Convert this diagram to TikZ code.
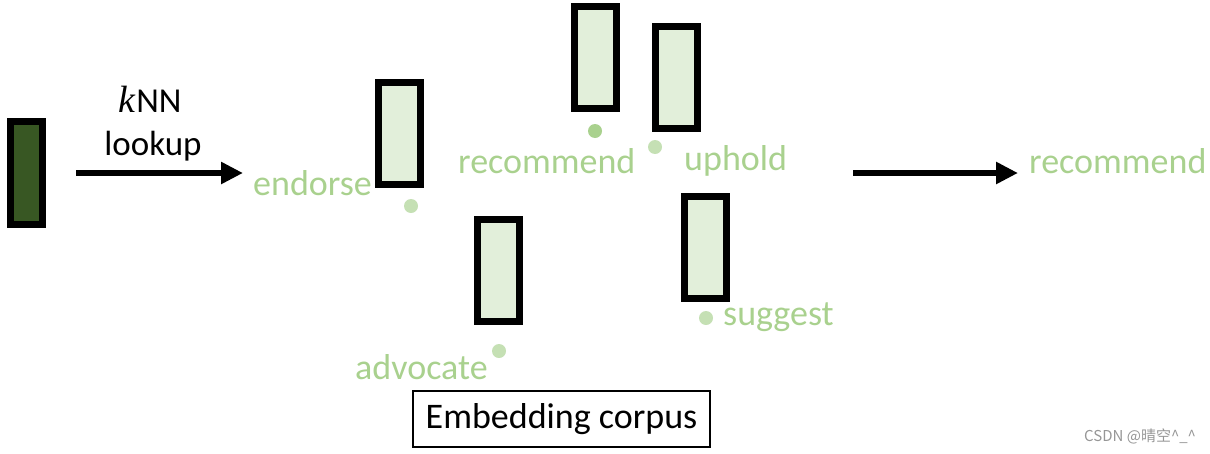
\documentclass[tikz,border=0pt]{standalone}
\usepackage{fontspec}
\setmainfont{Carlito}
\newfontfamily\cjkfont{Noto Sans CJK SC}
\newfontfamily\kitfont{Liberation Serif}
\usetikzlibrary{arrows.meta}
\definecolor{wordgreen}{RGB}{169,209,142}
\definecolor{dotlight}{RGB}{197,224,180}
\definecolor{vecfill}{RGB}{226,239,218}
\definecolor{queryfill}{RGB}{56,87,35}
\definecolor{wmgray}{RGB}{150,150,150}
\tikzset{
  vec/.style={draw=black, line width=7pt, fill=vecfill, inner sep=0pt,
    minimum width=42pt, minimum height=102pt},
  word/.style={text=wordgreen, inner sep=0pt, anchor=base west,
    font=\fontsize{36}{43}\selectfont},
  blk/.style={text=black, inner sep=0pt, anchor=base,
    font=\fontsize{35}{42}\selectfont},
  pt/.style={circle, fill=dotlight, inner sep=0pt, minimum size=14pt},
  ptdark/.style={circle, fill=wordgreen, inner sep=0pt, minimum size=14pt},
  arr/.style={line width=6pt, -{Triangle[length=22pt,width=21pt]}}
}
\begin{document}
\begin{tikzpicture}[x=1pt,y=-1pt]
\useasboundingbox (0,0) rectangle (1210,453);
% query vector
\node[vec, fill=queryfill, minimum width=32pt, minimum height=103pt] (q) at (26.5,173) {};
% kNN lookup label
\node[blk] (knn) at (150,112) {{\kitfont\itshape\fontsize{38}{42}\selectfont k}\kern1pt NN};
\node[blk] (lookup) at (153,155) {lookup};
\coordinate (a1s) at (76,173);
\coordinate (a1e) at (243,173);
\draw[arr] (a1s) -- (a1e);
% corpus vectors
\node[vec] (v1) at (399.5,133) {};
\node[vec] (v2) at (595,57.5) {};
\node[vec] (v3) at (676.5,77) {};
\node[vec] (v4) at (498.5,270.5) {};
\node[vec] (v5) at (705.5,247.5) {};
% dots
\node[pt] (d1) at (411,206) {};
\node[ptdark] (d2) at (595,131) {};
\node[pt] (d3) at (655,147) {};
\node[pt] (d4) at (499,351) {};
\node[pt] (d5) at (706,318) {};
% words
\node[word] (w1) at (253,195) {endorse};
\node[word] (w2) at (458,173) {recommend};
\node[word] (w3) at (684,170) {uphold};
\node[word] (w4) at (355,379) {advocate};
\node[word] (w5) at (723,325) {suggest};
% corpus box
\node[draw=black, line width=1.5pt, minimum width=297pt, minimum height=56pt, inner sep=0pt] (corpusbox) at (561.5,419) {};
\node[blk, font=\fontsize{36}{43}\selectfont] (corpus) at (561.5,428) {Embedding corpus};
% output
\coordinate (a2s) at (853,173);
\coordinate (a2e) at (1018,173);
\draw[arr] (a2s) -- (a2e);
\node[word] (out) at (1029,173) {recommend};
% watermark
\node[text=wmgray, inner sep=0pt, anchor=base west, font=\cjkfont\fontsize{15}{17}\selectfont] (wm) at (1084,441) {CSDN @晴空\^{}\_\^{}};
\end{tikzpicture}
\end{document}
